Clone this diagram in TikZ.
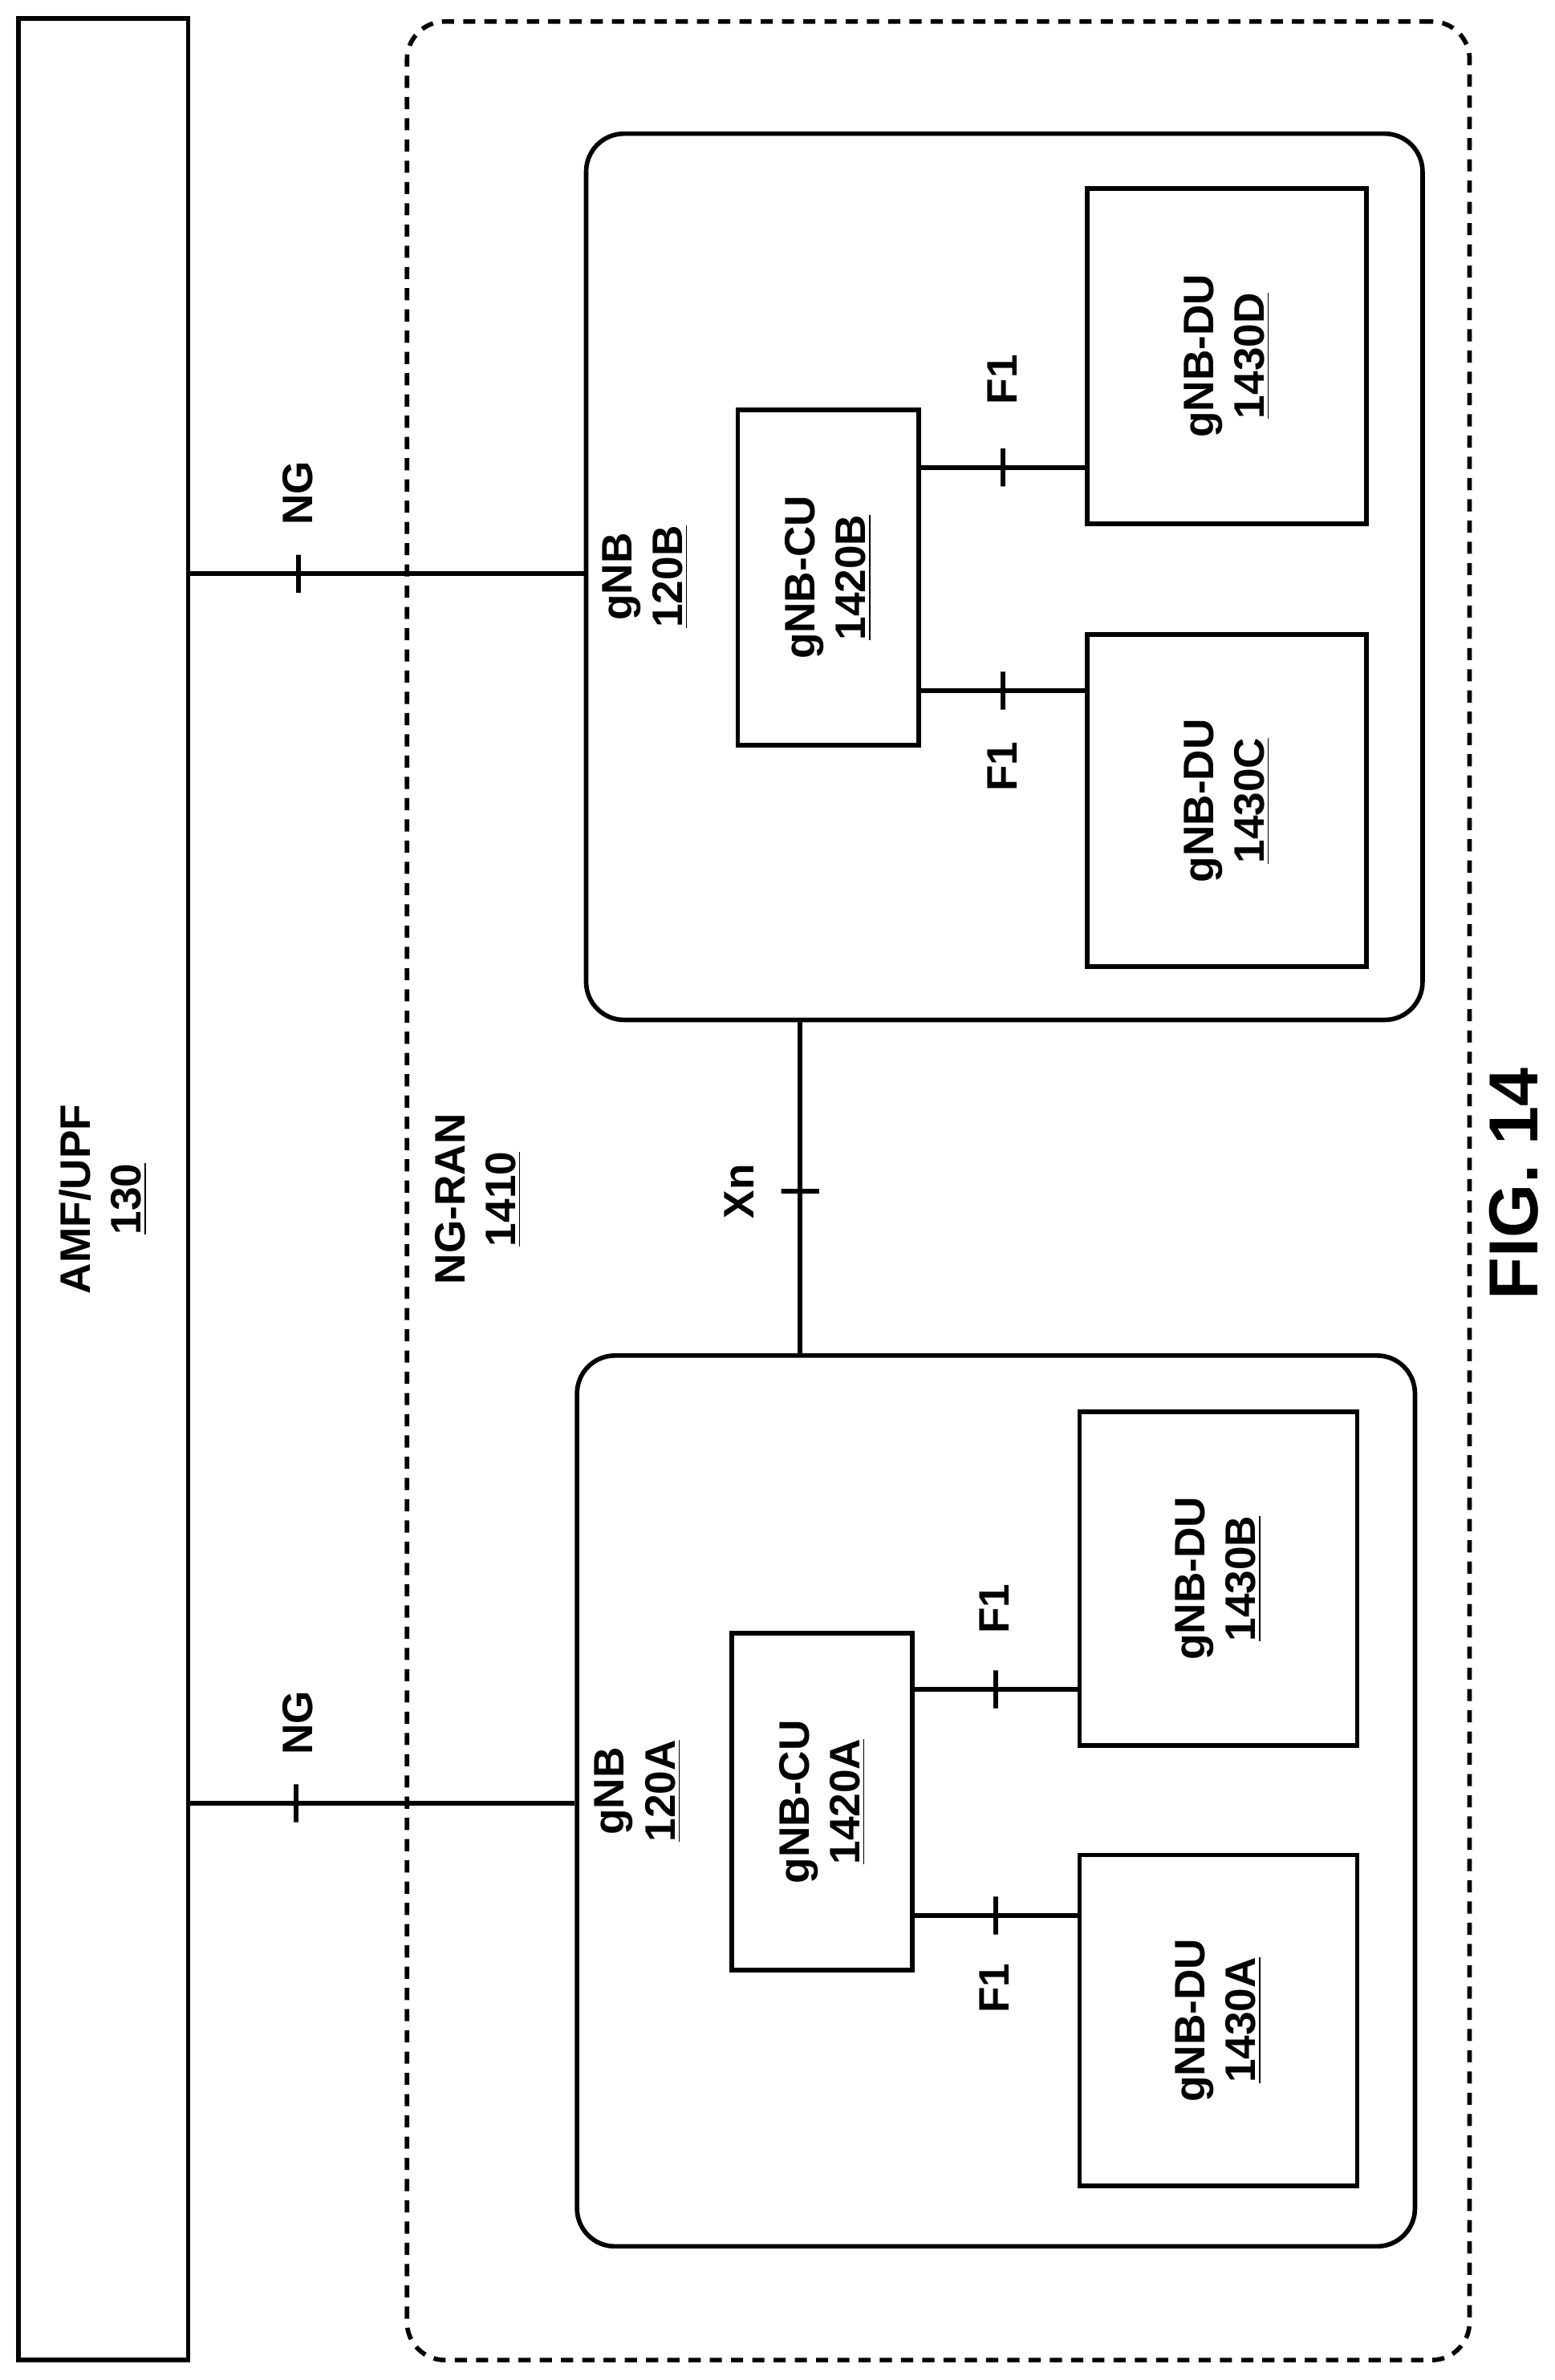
\documentclass[tikz,border=0pt]{standalone}
\usepackage{fontspec}
\setmainfont{Liberation Sans}
\usetikzlibrary{positioning}

\begin{document}
\begin{tikzpicture}[x=0.02cm, y=-0.02cm, line width=1.7pt, font=\bfseries\fontsize{16}{19}\selectfont]
            \tikzset{box/.style = {draw, inner sep=0pt}}
            \tikzset{lbl/.style = {rotate=90, align=center}}
            \tikzset{tick/.style = {draw, inner sep=0pt, minimum width=0pt, minimum height=0.5cm, line width=1.7pt}}
            \tikzset{htick/.style = {draw, inner sep=0pt, minimum height=0pt, minimum width=0.5cm, line width=1.7pt}}

            \useasboundingbox (0,0) rectangle (1024,1568);

            % core network
            \node[box, minimum width=2.24cm, minimum height=30.86cm] (amf) at (68,783.5) {};
            \node[lbl] at (68,790) {AMF/UPF\\\underline{130}};

            % radio access network
            \node[box, rounded corners=0.5cm, dash pattern=on 0.16cm off 0.12cm, minimum width=14cm, minimum height=30.82cm] (ran) at (618,784.5) {};
            \node[lbl] at (315,790) {NG-RAN\\\underline{1410}};

            % gNB B
            \node[box, rounded corners=0.5cm, minimum width=11.02cm, minimum height=11.68cm] (gnbB) at (661.5,380) {};
            \node[lbl] at (425,380) {gNB\\\underline{120B}};
            \node[box, minimum width=2.38cm, minimum height=4.42cm] (cuB) at (545.5,380.5) {};
            \node[lbl] at (cuB) {gNB-CU\\\underline{1420B}};
            \node[box, minimum width=3.68cm, minimum height=4.42cm] (duD) at (808,234.5) {};
            \node[lbl] at (duD) {gNB-DU\\\underline{1430D}};
            \node[box, minimum width=3.68cm, minimum height=4.38cm] (duC) at (808,527.5) {};
            \node[lbl] at (duC) {gNB-DU\\\underline{1430C}};

            % gNB A
            \node[box, rounded corners=0.5cm, minimum width=11.04cm, minimum height=11.74cm] (gnbA) at (656,1186.5) {};
            \node[lbl] at (420,1180) {gNB\\\underline{120A}};
            \node[box, minimum width=2.38cm, minimum height=4.44cm] (cuA) at (541.5,1187) {};
            \node[lbl] at (cuA) {gNB-CU\\\underline{1420A}};
            \node[box, minimum width=3.66cm, minimum height=4.4cm] (duB) at (802.5,1040) {};
            \node[lbl] at (duB) {gNB-DU\\\underline{1430B}};
            \node[box, minimum width=3.66cm, minimum height=4.36cm] (duA) at (802.5,1331) {};
            \node[lbl] at (duA) {gNB-DU\\\underline{1430A}};

            % NG interfaces
            \draw (amf.east |- 0,378) -- node[pos=0.275, tick] {} (gnbB.west |- 0,378);
            \node[lbl] at (196,325) {NG};
            \draw (amf.east |- 0,1188) -- node[pos=0.275, tick] {} (gnbA.west |- 0,1188);
            \node[lbl] at (196,1135) {NG};

            % F1 interfaces
            \draw (cuB.east |- 0,308) -- node[tick] {} (duD.west |- 0,308);
            \node[lbl] at (660,250) {F1};
            \draw (cuB.east |- 0,455) -- node[tick] {} (duC.west |- 0,455);
            \node[lbl] at (660,505) {F1};
            \draw (cuA.east |- 0,1113) -- node[tick] {} (duB.west |- 0,1113);
            \node[lbl] at (655,1060) {F1};
            \draw (cuA.east |- 0,1262) -- node[tick] {} (duA.west |- 0,1262);
            \node[lbl] at (655,1310) {F1};

            % Xn interface
            \draw (gnbB.south -| 527,0) -- node[pos=0.51, htick] {} (gnbA.north -| 527,0);
            \node[lbl] at (487,785) {Xn};

            \node[lbl, font=\bfseries\fontsize{26}{30}\selectfont] (fig) at (997,780) {FIG. 14};
\end{tikzpicture}
\end{document}
